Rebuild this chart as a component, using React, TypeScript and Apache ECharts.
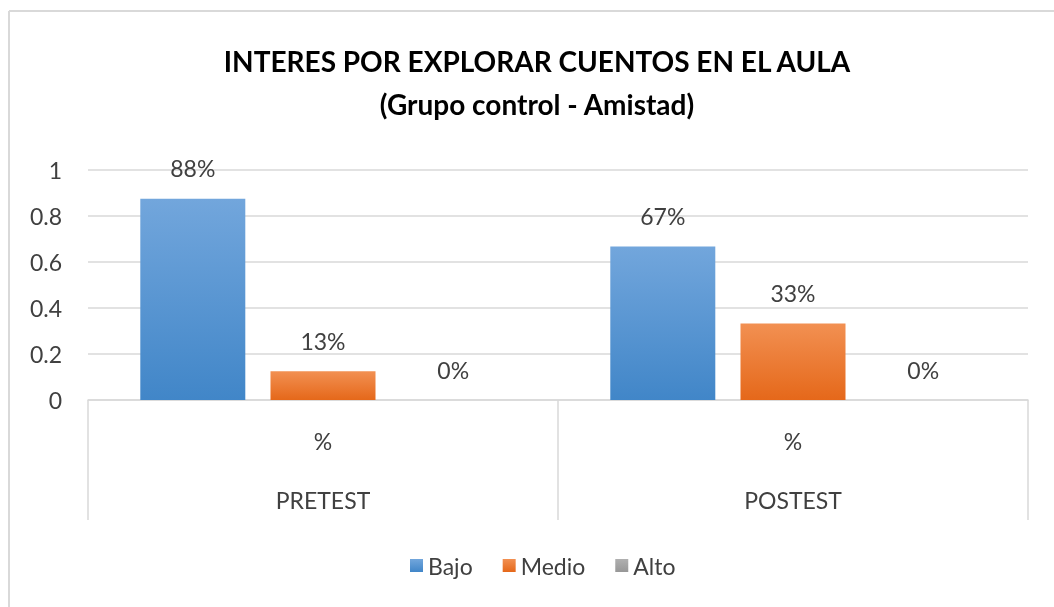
import React, { useEffect, useRef } from "react";
import * as echarts from "echarts";

const categories = ["PRETEST", "POSTEST"];
const subLabel = "%";
const seriesNames = ["Bajo", "Medio", "Alto"];
const bajo = [0.875, 0.667];
const medio = [0.125, 0.333];
const alto = [0, 0];
const titleText = "INTERES POR EXPLORAR CUENTOS EN EL AULA\n(Grupo control - Amistad)";

const FONT = "Lato, 'Open Sans', sans-serif";
const TEXT = "#404040";
const GRIDC = "#D9D9D9";
const FS = 23;

function grad(top: string, bottom: string) {
  return new echarts.graphic.LinearGradient(0, 0, 0, 1, [
    { offset: 0, color: top },
    { offset: 1, color: bottom },
  ]);
}

export default function App() {
  const ref = useRef<HTMLDivElement>(null);
  useEffect(() => {
    if (!ref.current) return;
    const chart = echarts.init(ref.current, null, { renderer: "svg" });
    const label = {
      show: true,
      position: "top",
      distance: 19,
      fontSize: FS,
      color: TEXT,
      fontFamily: FONT,
      formatter: (p: any) => Math.round(p.value * 100) + "%",
    };
    const colors = [grad("#72A6DC", "#4186C8"), grad("#F29052", "#E5681A"), grad("#B0B0B0", "#979797")];
    const datas = [bajo, medio, alto];
    chart.setOption({
      animation: false,
      textStyle: { fontFamily: FONT },
      title: {
        text: titleText,
        left: 532,
        textAlign: "center",
        top: 34,
        textStyle: { fontSize: 28, fontWeight: "bold", color: "#000", lineHeight: 43, fontFamily: FONT },
      },
      graphic: [
        { type: "line", shape: { x1: 9, y1: 11, x2: 1054, y2: 11 }, style: { stroke: GRIDC, lineWidth: 2 } },
        { type: "line", shape: { x1: 9, y1: 11, x2: 9, y2: 607 }, style: { stroke: GRIDC, lineWidth: 2 } },
      ],
      legend: {
        data: seriesNames,
        bottom: 25,
        left: 405,
        icon: "rect",
        itemWidth: 13,
        itemHeight: 13,
        itemGap: 30,
        textStyle: { fontSize: FS, color: TEXT, fontFamily: FONT },
      },
      grid: { left: 88, right: 26, top: 170, bottom: 207, containLabel: false },
      xAxis: {
        type: "category",
        data: categories,
        axisLine: { show: true, lineStyle: { color: GRIDC, width: 1.5 } },
        axisTick: { show: true, length: 120, lineStyle: { color: GRIDC, width: 1.5 } },
        axisLabel: {
          margin: 29,
          formatter: (v: string) => `{p|${subLabel}}\n{c|${v}}`,
          rich: {
            p: { fontSize: FS, color: TEXT, lineHeight: 24, fontFamily: FONT },
            c: { fontSize: FS, color: TEXT, lineHeight: 94, fontFamily: FONT },
          },
        },
      },
      yAxis: {
        type: "value",
        min: 0,
        max: 1,
        interval: 0.2,
        axisLine: { show: false },
        axisTick: { show: false },
        splitLine: { lineStyle: { color: GRIDC, width: 1.5 } },
        axisLabel: { fontSize: FS, color: TEXT, margin: 26, fontFamily: FONT },
      },
      series: seriesNames.map((name, i) => ({
        name,
        type: "bar",
        data: datas[i],
        barWidth: 105,
        barGap: "24%",
        itemStyle: { color: colors[i] },
        label,
      })),
    });
    return () => chart.dispose();
  }, []);
  return <div ref={ref} style={{ position: "fixed", left: 0, top: 0, width: 1054, height: 607 }} />;
}
